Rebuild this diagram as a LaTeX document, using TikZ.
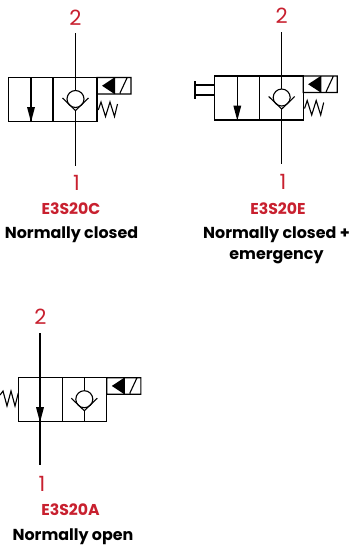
\documentclass[tikz,border=0pt]{standalone}
\usepackage{fontspec}
\setmainfont{Poppins}
\usetikzlibrary{positioning}
\definecolor{labelred}{HTML}{C8202F}
\tikzset{
  valveline/.style={draw=black,line width=1.1pt},
  portnum/.style={text=labelred,font=\fontsize{21}{21}\selectfont,inner sep=0pt},
  codename/.style={text=labelred,font=\fontsize{15.7}{16}\selectfont\bfseries,inner sep=0pt},
  modename/.style={text=black,font=\fontsize{15.9}{21}\selectfont\bfseries,inner sep=0pt,align=center},
  pics/valvebody/.style={code={
    \draw[valveline] (0,0) rectangle (88.5,44) (44.5,0) -- (44.5,44);
    \draw[valveline] (88.5,0) rectangle (122.5,16.5) (106,0) -- (106,16.5) (111.5,15.5) -- (118.5,.5);
    \fill (93.5,8.25) -- (106,0) -- (106,16.5) -- cycle;
    \draw[valveline] (#1,21.5) circle (8.5);
    \draw[valveline] (#1-13,20.5) -- (#1,33) -- (#1+13,20.5);
  }},
  pics/valvearrow/.style={code={
    \draw[valveline] (0,0) -- (0,44);
    \fill (0,44.5) -- (-4,29.5) -- (4,29.5) -- cycle;
  }},
  pics/valvespring/.style={code={
    \draw[valveline] (89.8,32.5) -- (92.5,24.5) -- (97,39) -- (101.5,24.5) -- (106,39) -- (109,26.5);
  }}
}
\begin{document}
\begin{tikzpicture}[x=1pt,y=-1pt]
\useasboundingbox (0,0) rectangle (350,547);
% normally closed
\pic at (8.5,77.5) {valvebody=67};
\pic at (31,77.5) {valvearrow};
\pic at (8.5,77.5) {valvespring};
\node[portnum] (twoa) at (75.5,18) {2};
\node[portnum] (onea) at (76.5,183) {1};
\node[codename] (codea) at (71,209) {E3S20C};
\node[modename] (modea) at (71.5,234.5) {Normally closed};
\coordinate (twoaend) at (75.5,33);
\coordinate (oneaend) at (75.5,166);
\coordinate (checkatop) at (75.5,90.5);
\coordinate (checkabot) at (75.5,110.5);
\draw[valveline] (twoaend) -- (checkatop) (checkabot) -- (oneaend);
% normally closed + emergency
\pic at (214.7,76) {valvebody=67};
\pic at (237.3,76) {valvearrow};
\pic at (214.7,76) {valvespring};
\node[portnum] (twob) at (281.7,16) {2};
\node[portnum] (oneb) at (283,182) {1};
\node[codename] (codeb) at (278,209) {E3S20E};
\node[modename] (modeb) at (276.5,245) {Normally closed +\\emergency};
\coordinate (twobend) at (281.7,32);
\coordinate (onebend) at (281.7,164);
\coordinate (checkbtop) at (281.7,89);
\coordinate (checkbbot) at (281.7,109);
\draw[valveline] (twobend) -- (checkbtop) (checkbbot) -- (onebend);
\draw[valveline] (214.7,85) -- (195,85) (214.7,95) -- (195,95) (195,81) -- (195,99);
% normally open
\pic at (18.3,377.7) {valvebody=66};
\pic at (40,377.7) {valvearrow};
\draw[valveline] (0,395) -- (3,391) -- (7,406) -- (11,391) -- (15,406) -- (18.3,393);
\node[portnum] (twoc) at (40.5,317) {2};
\node[portnum] (onec) at (42,484) {1};
\node[codename] (codec) at (70.5,510) {E3S20A};
\node[modename] (modec) at (73,536.5) {Normally open};
\coordinate (twocend) at (40,333);
\coordinate (onecend) at (40,465);
\coordinate (checkctop) at (84.3,377.7);
\coordinate (checkcbot) at (84.3,421.7);
\draw[valveline] (twocend) -- (onecend);
\draw[valveline] (checkctop) -- +(0,12.8) (checkcbot) -- +(0,-11.2);
\end{tikzpicture}
\end{document}
